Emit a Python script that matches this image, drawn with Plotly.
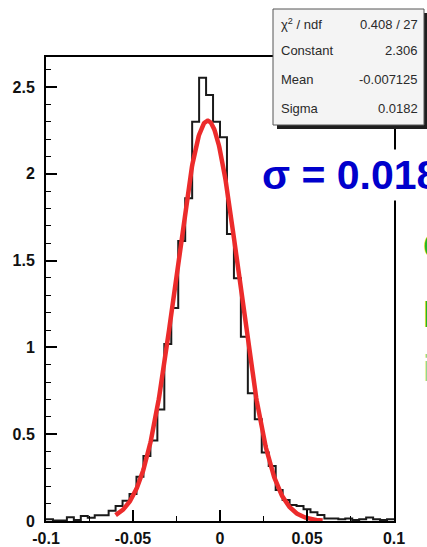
import numpy as np
import plotly.graph_objects as go

# ---------------- data ----------------
bin_edges = np.round(np.linspace(-0.1, 0.1, 51), 4)   # 50 bins of width 0.004
bin_values = [0.010, 0.003, 0.003, 0.021, 0.006, 0.029, 0.019, 0.033, 0.033, 0.059,
              0.086, 0.117, 0.155, 0.255, 0.374, 0.463, 0.643, 1.020, 1.227, 1.613,
              1.859, 2.300, 2.554, 2.454, 2.300, 2.210, 1.653, 1.398, 1.062, 0.736,
              0.586, 0.394, 0.317, 0.179, 0.121, 0.092, 0.086, 0.067, 0.050, 0.035,
              0.015, 0.015, 0.010, 0.015, 0.006, 0.010, 0.020, 0.010, 0.006, 0.010]

fit_constant = 2.306
fit_mean = -0.007125
fit_sigma = 0.0182
fit_range = [-0.060, 0.059]

stats_labels = ["χ<sup>2</sup> / ndf", "Constant", "Mean", "Sigma"]
stats_values = ["0.408 / 27", "2.306", "-0.007125", "0.0182"]

x_tick_vals = [-0.1, -0.05, 0, 0.05, 0.1]
x_tick_text = ["-0.1", "-0.05", "0", "0.05", "0.1"]
y_tick_vals = [0, 0.5, 1, 1.5, 2, 2.5]
y_tick_text = ["0", "0.5", "1", "1.5", "2", "2.5"]

sigma_text = "σ = 0.0182"
side_letters = ["C", "E", "i"]
side_colors = ["#22b822", "#22b822", "#8fd88f"]

# ---------------- layout geometry ----------------
W, H = 427, 547
L, R, T, B = 46, 394, 57, 521


def px2x(px):
    return (px - L) / (R - L)


def py2y(py):
    return (B - py) / (B - T)


FONT = "Liberation Sans, Arial, Helvetica, sans-serif"

fig = go.Figure()

# histogram outline
hx = list(bin_edges)
hy = list(bin_values) + [bin_values[-1]]
fig.add_trace(go.Scatter(x=hx, y=hy, mode="lines", line=dict(color="#1a1a1a", width=2, shape="hv"),
                         hoverinfo="skip", showlegend=False))

# gaussian fit curve
fx = np.linspace(fit_range[0], fit_range[1], 400)
fy = fit_constant * np.exp(-0.5 * ((fx - fit_mean) / fit_sigma) ** 2)
fig.add_trace(go.Scatter(x=fx, y=fy, mode="lines", line=dict(color="#ec2b2b", width=4.5),
                         hoverinfo="skip", showlegend=False))

shapes = []
# stats box shadow + box
shapes.append(dict(type="rect", xref="paper", yref="paper",
                   x0=px2x(277), x1=px2x(428), y0=py2y(129), y1=py2y(13),
                   fillcolor="#1e1e1e", line=dict(width=0), layer="above"))
shapes.append(dict(type="rect", xref="paper", yref="paper",
                   x0=px2x(273), x1=px2x(424), y0=py2y(125), y1=py2y(9),
                   fillcolor="#f4f4f4", line=dict(color="#555555", width=1), layer="above"))

annotations = []
row_y = [24, 51, 80, 109]
for lab, val, ry in zip(stats_labels, stats_values, row_y):
    annotations.append(dict(xref="paper", yref="paper", x=px2x(279), y=py2y(ry), text=lab,
                            xanchor="left", yanchor="middle", showarrow=False,
                            font=dict(family=FONT, size=13, color="#2a2a2a")))
    annotations.append(dict(xref="paper", yref="paper", x=px2x(420), y=py2y(ry), text=val,
                            xanchor="right", yanchor="middle", showarrow=False,
                            font=dict(family=FONT, size=13, color="#2a2a2a")))

annotations.append(dict(xref="paper", yref="paper", x=px2x(259), y=py2y(175), text=sigma_text,
                        xanchor="left", yanchor="middle", showarrow=False,
                        bgcolor="white", borderpad=2,
                        font=dict(family=FONT, size=41, color="#0000cc", weight="bold")))

for letter, col, ly in zip(side_letters, side_colors, [246, 314, 368]):
    annotations.append(dict(xref="paper", yref="paper", x=px2x(421), y=py2y(ly), text=letter,
                            xanchor="left", yanchor="middle", showarrow=False,
                            font=dict(family=FONT, size=37, color=col, weight="bold")))

fig.update_layout(
    width=W, height=H, autosize=False,
    margin=dict(l=L, r=W - R, t=T, b=H - B, pad=0, autoexpand=False),
    paper_bgcolor="white", plot_bgcolor="white",
    shapes=shapes, annotations=annotations,
    showlegend=False,
)

fig.update_xaxes(range=[-0.1, 0.1], showgrid=False, zeroline=False, automargin=False,
                 showline=True, linecolor="black", linewidth=2, mirror=True,
                 ticks="inside", ticklen=11, tickwidth=1.5, tickcolor="black",
                 tickvals=x_tick_vals, ticktext=x_tick_text,
                 minor=dict(dtick=0.025, tick0=0, ticks="inside", ticklen=5, tickwidth=1.2, tickcolor="black"),
                 tickfont=dict(family=FONT, size=16, color="#111111", weight="bold"),
                 ticklabelstandoff=2)
fig.update_yaxes(range=[0, (B - T) / 173.6], showgrid=False, zeroline=False, automargin=False,
                 showline=True, linecolor="black", linewidth=2, mirror=True,
                 ticks="inside", ticklen=11, tickwidth=1.5, tickcolor="black",
                 tickvals=y_tick_vals, ticktext=y_tick_text,
                 minor=dict(dtick=0.1, tick0=0, ticks="inside", ticklen=5, tickwidth=1.2, tickcolor="black"),
                 tickfont=dict(family=FONT, size=16, color="#111111", weight="bold"),
                 ticklabelstandoff=6)

fig.write_html("out.html")
